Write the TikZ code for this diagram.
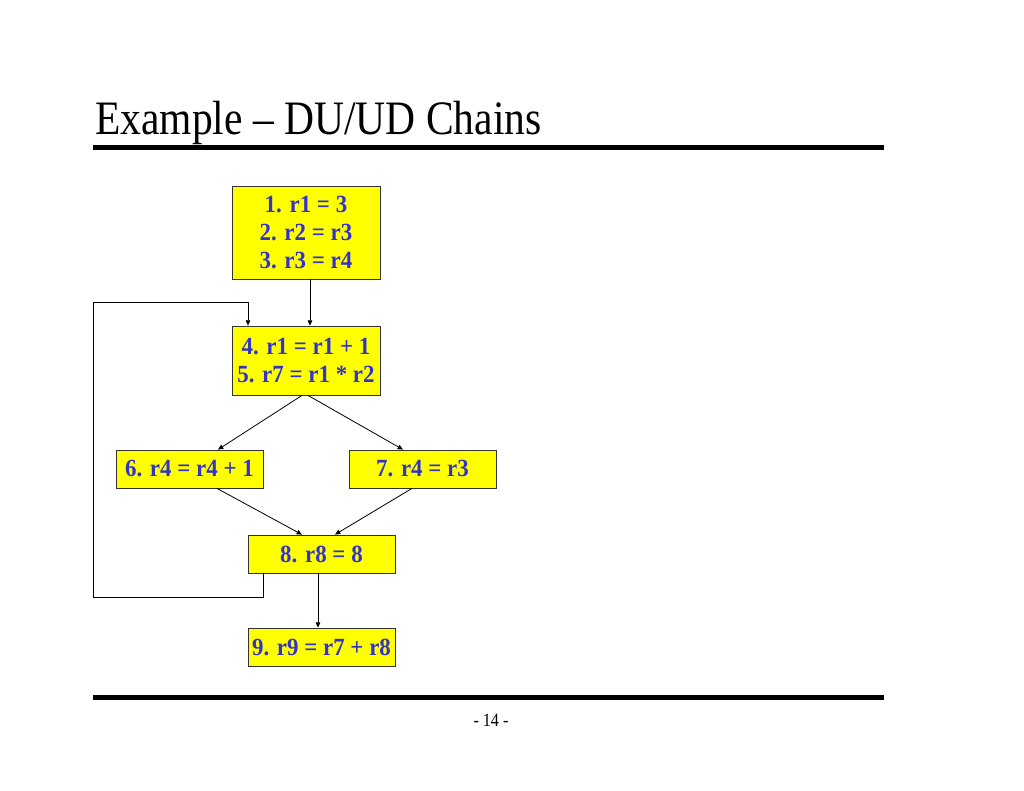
\documentclass[tikz,border=0pt]{standalone}
\usepackage{fontspec}
\setmainfont{Liberation Serif}
\newfontfamily\titlefont[FakeStretch=0.865]{Liberation Serif}
\newfontfamily\boxfont[FakeStretch=0.93]{Liberation Serif}
\usetikzlibrary{calc,arrows.meta}
\definecolor{txtblue}{RGB}{51,51,204}
\definecolor{boxyellow}{RGB}{255,255,0}
\begin{document}
\begin{tikzpicture}[x=0.75pt,y=-0.75pt,
  blk/.style={draw=black!80,line width=0.6pt,fill=boxyellow,inner sep=0pt,
    text=txtblue,font=\boxfont\fontsize{18.5}{21}\selectfont\bfseries,align=center},
  arr/.style={draw=black,line width=0.6pt,-{Triangle[length=4pt,width=3.5pt]}},
  rulebar/.style={line width=3.75pt}]
\useasboundingbox (0,0) rectangle (1024,791);
\node[font=\titlefont\fontsize{36}{40}\selectfont,anchor=base west,inner sep=0pt] (title) at (95,135) {Example – DU/UD Chains};
\draw[rulebar] (93,147.5) coordinate (t1) -- (884,147.5) coordinate (t2);
\draw[rulebar] (93,697.5) coordinate (f1) -- (884,697.5) coordinate (f2);
\node[font=\titlefont\fontsize{14}{16}\selectfont] (pg) at (491,720) {- 14 -};

\node[blk,minimum width=111pt,minimum height=69.75pt] (b1) at (306,232.5) {1. r1 = 3\\2. r2 = r3\\3. r3 = r4};
\node[blk,minimum width=111pt,minimum height=51.75pt] (b2) at (306,360.5) {4. r1 = r1 + 1\\5. r7 = r1 * r2};
\node[blk,minimum width=110.25pt,minimum height=28.5pt] (b3) at (189.5,469) {6. r4 = r4 + 1};
\node[blk,minimum width=110.25pt,minimum height=28.5pt] (b4) at (422.5,469) {7. r4 = r3};
\node[blk,minimum width=110.25pt,minimum height=28.5pt] (b5) at (321.5,554) {8. r8 = 8};
\node[blk,minimum width=110.25pt,minimum height=28.5pt] (b6) at (321.5,647) {9. r9 = r7 + r8};

\draw[arr] ($(b1.south)+(4,0)$) -- ($(b2.north)+(4,0)$);
\draw[arr] ($(b2.south)+(-4,0)$) -- ($(b3.north)+(28.5,0)$);
\draw[arr] ($(b2.south)+(2,0)$) -- ($(b4.north)+(-19.5,0)$);
\draw[arr] ($(b3.south)+(27.5,0)$) -- ($(b5.north)+(-19.5,0)$);
\draw[arr] ($(b4.south)+(-10.5,0)$) -- ($(b5.north)+(13.5,0)$);
\draw[arr] ($(b5.south)+(-3.5,0)$) -- ($(b6.north)+(-3.5,0)$);
\coordinate (l1) at (263,597);
\coordinate (l2) at (93,597);
\coordinate (l3) at (93,302);
\coordinate (l4) at (248,302);
\draw[arr] ($(b5.south)+(-58.5,0)$) -- (l1) -- (l2) -- (l3) -- (l4) -- ($(b2.north)+(-58,0)$);
\end{tikzpicture}
\end{document}
